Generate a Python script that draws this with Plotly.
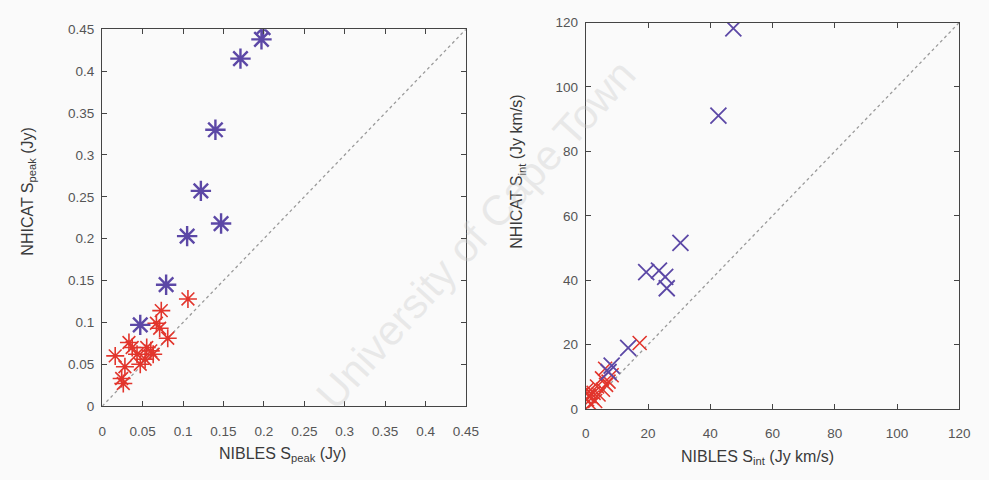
import plotly.graph_objects as go

# ---- Data: left panel (peak flux, Jy) ----
peak_purple_x = [0.199, 0.197, 0.171, 0.140, 0.122, 0.147, 0.105, 0.079, 0.047]
peak_purple_y = [0.452, 0.438, 0.415, 0.330, 0.257, 0.218, 0.203, 0.145, 0.097]
peak_red_x = [0.106, 0.073, 0.067, 0.071, 0.081, 0.037, 0.043, 0.055, 0.063,
              0.053, 0.033, 0.016, 0.028, 0.024, 0.026, 0.060, 0.047]
peak_red_y = [0.128, 0.114, 0.099, 0.093, 0.081, 0.070, 0.062, 0.070, 0.062,
              0.056, 0.076, 0.060, 0.047, 0.033, 0.027, 0.066, 0.050]

# ---- Data: right panel (integrated flux, Jy km/s) ----
int_purple_x = [47.4, 42.6, 30.4, 19.4, 23.5, 25.5, 26.0, 13.6, 8.3, 7.3]
int_purple_y = [118.2, 91.1, 51.6, 42.5, 43.0, 41.0, 37.5, 19.0, 13.5, 11.5]
int_red_x = [17.3, 6.2, 5.2, 3.6, 2.5, 0.9, 0.4, 0.3, 1.5, 4.1, 7.3, 8.3,
             2.0, 3.0, 5.5, 1.0, 6.5]
int_red_y = [20.5, 12.5, 9.5, 7.0, 5.0, 4.0, 3.0, 6.0, 1.5, 4.5, 8.5, 10.5,
             3.5, 2.5, 6.0, 5.5, 7.5]

peak_ticks = [0, 0.05, 0.1, 0.15, 0.2, 0.25, 0.3, 0.35, 0.4, 0.45]
peak_ticklabels = ["0", "0.05", "0.1", "0.15", "0.2", "0.25", "0.3", "0.35", "0.4", "0.45"]
int_ticks = [0, 20, 40, 60, 80, 100, 120]
int_ticklabels = ["0", "20", "40", "60", "80", "100", "120"]
peak_line = [0, 0.45]
int_line = [0, 120]

PURPLE = "#5c48a6"
RED = "#e2352c"
AXC = "#444444"

fig = go.Figure()

# diagonal one-to-one lines
fig.add_trace(go.Scatter(x=peak_line, y=peak_line, mode="lines",
                         line=dict(color="#9a9a9a", width=1.3, dash="dot"),
                         xaxis="x", yaxis="y", showlegend=False))
fig.add_trace(go.Scatter(x=int_line, y=int_line, mode="lines",
                         line=dict(color="#9a9a9a", width=1.3, dash="dot"),
                         xaxis="x2", yaxis="y2", showlegend=False))

# left panel markers
fig.add_trace(go.Scatter(x=peak_red_x, y=peak_red_y, mode="markers",
                         marker=dict(symbol="asterisk-open", size=15, color=RED,
                                     line=dict(color=RED, width=1.6)),
                         xaxis="x", yaxis="y", showlegend=False))
fig.add_trace(go.Scatter(x=peak_purple_x, y=peak_purple_y, mode="markers",
                         marker=dict(symbol="asterisk-open", size=17, color=PURPLE,
                                     line=dict(color=PURPLE, width=2.4)),
                         xaxis="x", yaxis="y", showlegend=False))

# right panel markers
fig.add_trace(go.Scatter(x=int_red_x, y=int_red_y, mode="markers",
                         marker=dict(symbol="x-thin-open", size=14, color=RED,
                                     line=dict(color=RED, width=1.6)),
                         xaxis="x2", yaxis="y2", showlegend=False))
fig.add_trace(go.Scatter(x=int_purple_x, y=int_purple_y, mode="markers",
                         marker=dict(symbol="x-thin-open", size=16, color=PURPLE,
                                     line=dict(color=PURPLE, width=1.8)),
                         xaxis="x2", yaxis="y2", showlegend=False))

axis_common = dict(showgrid=False, zeroline=False, showline=True, linecolor=AXC,
                   linewidth=1.4, mirror="allticks", ticks="inside", ticklen=5,
                   tickcolor=AXC, tickwidth=1,
                   tickfont=dict(family="Liberation Sans, Arial, sans-serif",
                                 size=13.5, color="#555555"))

W, H = 989, 480
fig.update_layout(
    width=W, height=H,
    margin=dict(l=0, r=0, t=0, b=0),
    paper_bgcolor="#fafafa", plot_bgcolor="#fafafa",
    xaxis=dict(domain=[100 / W, 470 / W], range=[0, 0.45], tickvals=peak_ticks,
               ticktext=peak_ticklabels, anchor="y", ticklabelstandoff=12,
               **axis_common),
    yaxis=dict(domain=[68 / H, 457 / H], range=[0, 0.45], tickvals=peak_ticks,
               ticktext=peak_ticklabels, anchor="x", ticklabelstandoff=4,
               **axis_common),
    xaxis2=dict(domain=[592 / W, 972 / W], range=[0, 120], tickvals=int_ticks,
                ticktext=int_ticklabels, anchor="y2", ticklabelstandoff=12,
                **axis_common),
    yaxis2=dict(domain=[65 / H, 464 / H], range=[0, 120], tickvals=int_ticks,
                ticktext=int_ticklabels, anchor="x2", ticklabelstandoff=4,
                **axis_common),
)

title_font = dict(family="Liberation Sans, Arial, sans-serif", size=16, color="#3a3a3a")
annots = [
    dict(text="NIBLES S<sub>peak</sub> (Jy)", x=283 / W, y=1 - 462 / H),
    dict(text="NIBLES S<sub>int</sub> (Jy km/s)", x=767 / W, y=1 - 465 / H),
    dict(text="NHICAT S<sub>peak</sub> (Jy)", x=24 / W, y=1 - 190 / H, textangle=-90),
    dict(text="NHICAT S<sub>int</sub> (Jy km/s)", x=523 / W, y=1 - 170 / H, textangle=-90),
]
for a in annots:
    fig.add_annotation(xref="paper", yref="paper", showarrow=False,
                       xanchor="center", yanchor="middle", font=title_font, **a)

# faint watermark present in the scanned original
fig.add_annotation(text="University of Cape Town", xref="paper", yref="paper",
                   x=480 / W, y=1 - 235 / H, showarrow=False, textangle=-48,
                   font=dict(family="Liberation Sans, Arial, sans-serif", size=42,
                             color="rgba(200,200,200,0.35)"))

fig.write_html("out.html")
